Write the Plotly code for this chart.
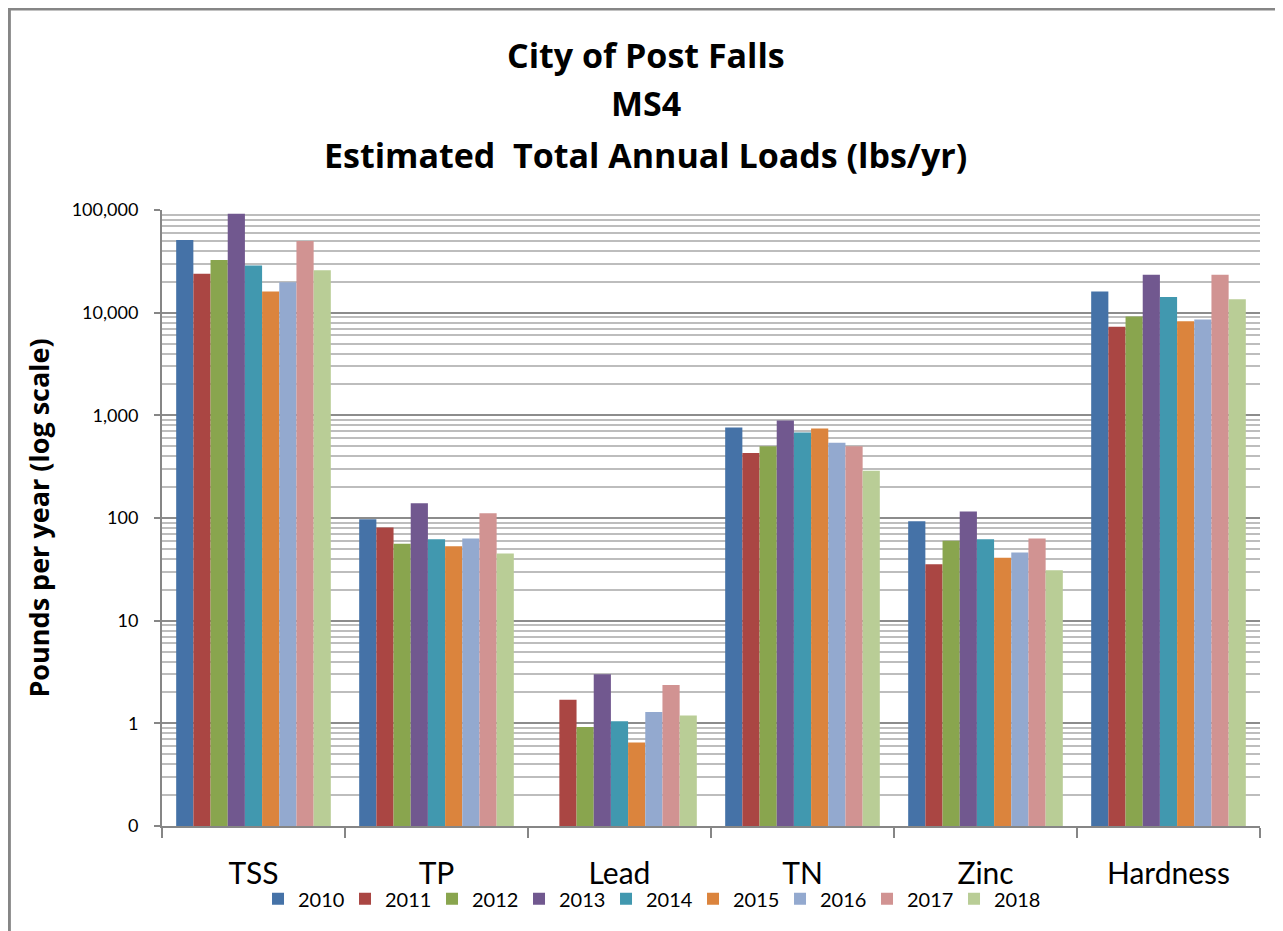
import plotly.graph_objects as go

categories = ["TSS", "TP", "Lead", "TN", "Zinc", "Hardness"]
years = ["2010", "2011", "2012", "2013", "2014", "2015", "2016", "2017", "2018"]

v2010 = [51000, 97, None, 760, 93, 16100]
v2011 = [24000, 81, 1.7, 430, 35.5, 7300]
v2012 = [32500, 56, 0.92, 500, 60, 9200]
v2013 = [92000, 139, 3.0, 890, 116, 23400]
v2014 = [28800, 62, 1.05, 680, 62, 14200]
v2015 = [16100, 53, 0.65, 745, 41, 8250]
v2016 = [19800, 63, 1.29, 540, 46, 8600]
v2017 = [50000, 111, 2.36, 500, 63, 23400]
v2018 = [25900, 45, 1.19, 289, 31, 13500]

series = [v2010, v2011, v2012, v2013, v2014, v2015, v2016, v2017, v2018]
colors = ["#4572A7", "#AA4643", "#89A54E", "#71588F", "#4198AF",
          "#DB843D", "#93A9CF", "#D19392", "#B9CD96"]

tick_vals = [0.1, 1, 10, 100, 1000, 10000, 100000]
tick_text = ["0", "1", "10", "100", "1,000", "10,000", "100,000"]
minor_vals = [k * 10 ** d for d in range(-1, 5) for k in range(2, 10)]

FONT = "Lato"
TFONT = "Open Sans"

fig = go.Figure()
for yr, vals, c in zip(years, series, colors):
    fig.add_trace(go.Bar(name=yr, x=categories, y=vals, marker=dict(color=c, line=dict(width=0))))

fig.update_layout(
    width=1275, height=923,
    margin=dict(l=154, r=23, t=202, b=105, autoexpand=False),
    paper_bgcolor="white", plot_bgcolor="white",
    barmode="group", bargap=0.155, bargroupgap=0,
    font=dict(family=FONT, color="black"),
    showlegend=True,
    legend=dict(orientation="h", x=0.444, xanchor="center", y=-0.118, yanchor="middle",
                font=dict(size=20, family=FONT), entrywidth=42, entrywidthmode="pixels",
                itemwidth=30, traceorder="normal", bgcolor="rgba(0,0,0,0)"),
)

fig.update_xaxes(
    type="category", showline=True, linecolor="#868686", linewidth=2,
    ticks="outside", tickson="boundaries", ticklen=10, tickcolor="#868686", tickwidth=2,
    tickfont=dict(size=30, family=FONT), ticklabelstandoff=20, showgrid=False,
    automargin=False,
)
fig.update_yaxes(
    type="log", range=[-1, 5], showline=True, linecolor="#868686", linewidth=2,
    tickmode="array", tickvals=tick_vals, ticktext=tick_text,
    ticks="outside", ticklen=6, tickcolor="#868686", tickwidth=2,
    tickfont=dict(size=18, family=FONT), ticklabelstandoff=12,
    showgrid=True, gridcolor="#8c8c8c", gridwidth=2,
    minor=dict(tickmode="array", tickvals=minor_vals, showgrid=True,
               gridcolor="#bdbdbd", gridwidth=2, ticks=""),
    title=dict(text="<b>Pounds per year (log scale)</b>", font=dict(size=27, family=TFONT), standoff=14),
    zeroline=False, automargin=False,
)

title_lines = ["City of Post Falls", "MS4", "Estimated  Total Annual Loads (lbs/yr)"]
title_y = [1.2516, 1.1737, 1.0893]
for txt, yy in zip(title_lines, title_y):
    fig.add_annotation(text="<b>" + txt + "</b>", xref="paper", yref="paper",
                       x=0.4408, y=yy, xanchor="center", yanchor="middle",
                       showarrow=False, font=dict(size=34, family=TFONT, color="black"))

fig.add_shape(type="rect", xref="paper", yref="paper",
              x0=-0.1390, x1=1.0200, y0=-0.18, y1=1.3263,
              line=dict(color="#868686", width=3), layer="below")

fig.write_html("out.html")
